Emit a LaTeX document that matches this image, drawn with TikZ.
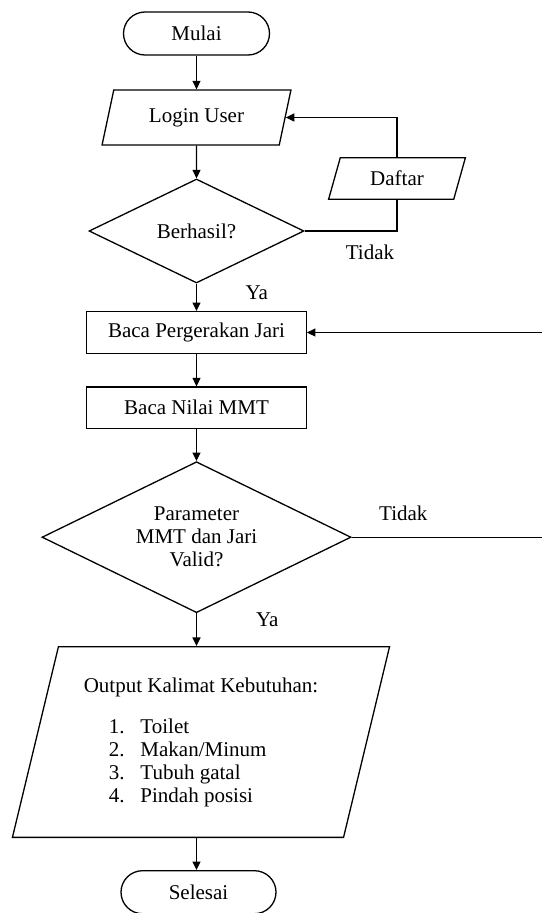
\documentclass[tikz,border=0pt]{standalone}
\usepackage{fontspec}
\setmainfont{Liberation Serif}
\usetikzlibrary{shapes.geometric,arrows.meta}

\tikzstyle{terminal} = [rectangle, rounded corners=21.5pt, minimum height=43pt, text centered, draw=black, line width=1.3pt]
\tikzstyle{process} = [rectangle, minimum width=219.5pt, minimum height=41.6pt, text centered, draw=black, line width=1.3pt]
\tikzstyle{io} = [trapezium, trapezium left angle=74, trapezium right angle=106, trapezium stretches=true, text centered, draw=black, line width=1.3pt]
\tikzstyle{decision} = [diamond, aspect=2, inner sep=0pt, align=center, draw=black, line width=1.3pt]
\tikzstyle{arrow} = [line width=1.3pt,-{Triangle[length=8.5pt,width=8pt]}]
\tikzstyle{line} = [line width=1.3pt]

\begin{document}
\begin{tikzpicture}[x=1pt, y=-1pt, font=\fontsize{21}{23}\selectfont]
\useasboundingbox (0,0) rectangle (541,913);
\coordinate (kanan) at (546,0);

\node (mulai) [terminal, minimum width=146pt] at (196.5,33.5) {Mulai};
\node (login) [io, minimum width=189pt, minimum height=55pt, node distance=84pt, below of=mulai] {Login User};
\node (berhasil) [decision, minimum width=215pt, minimum height=104pt, node distance=113.5pt, below of=login] {Berhasil?};
\node (daftar) [io, minimum width=137.3pt, minimum height=41.6pt, node distance=200.5pt, right of=berhasil, yshift=52.5pt] {Daftar};
\node (baca1) [process, node distance=101.5pt, below of=berhasil] {Baca Pergerakan Jari};
\node (baca2) [process, node distance=75.3pt, below of=baca1] {Baca Nilai MMT};
\node (valid) [decision, minimum width=309pt, minimum height=151pt, node distance=129.4pt, below of=baca2] {Parameter\\MMT dan Jari\\Valid?};
\node (output) [io, minimum width=378pt, minimum height=190.7pt, align=left, node distance=204.8pt, below of=valid, xshift=4.5pt] {Output Kalimat Kebutuhan:\\[18pt]
  \hspace*{25pt}\makebox[31.7pt][l]{1.}Toilet\\
  \hspace*{25pt}\makebox[31.7pt][l]{2.}Makan/Minum\\
  \hspace*{25pt}\makebox[31.7pt][l]{3.}Tubuh gatal\\
  \hspace*{25pt}\makebox[31.7pt][l]{4.}Pindah posisi};
\node (selesai) [terminal, minimum width=155pt, node distance=150.2pt, below of=output, xshift=-2.5pt] {Selesai};

\node (tidak1) [anchor=base] at (370,259.3) {Tidak};
\node (ya1) [anchor=base] at (256.7,299) {Ya};
\node (tidak2) [anchor=base] at (403.3,520) {Tidak};
\node (ya2) [anchor=base] at (267.3,626) {Ya};

\draw [arrow] (mulai) -- (login);
\draw [arrow] (login) -- (berhasil);
\draw [line] (berhasil) -| (daftar);
\draw [arrow] (daftar) |- (login);
\draw [arrow] (berhasil) -- (baca1);
\draw [arrow] (baca1) -- (baca2);
\draw [arrow] (baca2) -- (valid);
\draw [arrow] (valid) -- (valid -| kanan) |- (baca1);
\draw [arrow] (valid) -- (valid |- output.north);
\draw [arrow] (valid |- output.south) -- (valid |- selesai.north);
\end{tikzpicture}
\end{document}
